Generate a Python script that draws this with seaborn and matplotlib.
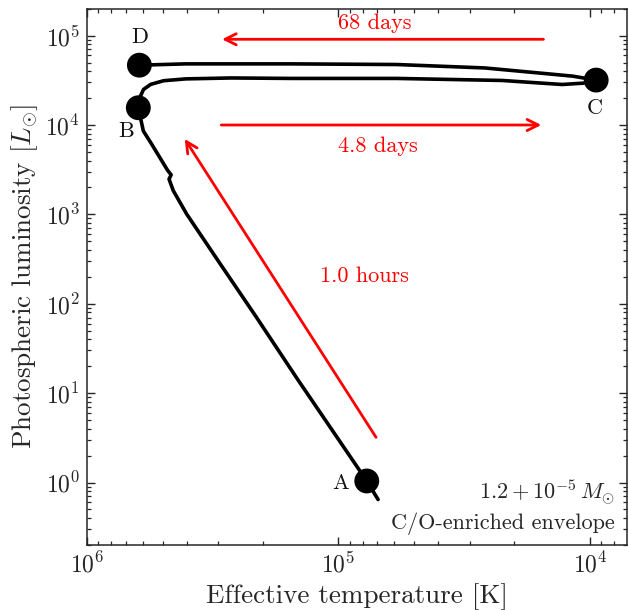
import numpy as np
import pandas as pd
import matplotlib
matplotlib.use("Agg")
import matplotlib.pyplot as plt
import seaborn as sns
from matplotlib.ticker import LogLocator, NullFormatter

# ---- data ----
track_T = [69500, 77100, 146000, 212000, 295000, 401000, 453000, 471000, 462000,
           478000, 552000, 596000, 624000, 618000, 595000, 557000, 495000, 405000,
           267000, 154000, 58600, 22300, 16100, 12900, 10600, 9440, 11700, 16100,
           26200, 58600, 154000, 405000, 618000]
track_L = [0.645, 1.04, 14.6, 71.1, 280, 1010, 1840, 2480, 2770,
           3130, 6100, 8570, 15600, 19800, 25000, 28500, 31300, 32800,
           33600, 33200, 33200, 31500, 29600, 28400, 29400, 31800, 35200, 38300,
           43500, 47500, 48300, 48300, 46700]

point_names = ["A", "B", "C", "D"]
point_T = [77100, 624000, 9440, 618000]
point_L = [1.04, 15600, 31800, 46700]
label_T = [98400, 698000, 9530, 615000]
label_L = [0.98, 8580, 15500, 95000]

arrow_text = ["68 days", "4.8 days", "1.0 hours"]
arrow_tail_T = [15300, 292000, 70800]
arrow_tail_L = [91000, 10000, 3.2]
arrow_head_T = [290000, 15600, 408000]
arrow_head_L = [91000, 10000, 6980]
text_T = [71500, 69500, 78900]
text_L = [137000, 5840, 205]

# ---- style ----
sns.set_style("ticks")
plt.rcParams.update({
    "font.family": "serif",
    "font.serif": ["cmr10", "DejaVu Serif"],
    "mathtext.fontset": "cm",
    "axes.formatter.use_mathtext": True,
    "axes.unicode_minus": False,
    "axes.linewidth": 1.1,
    "xtick.direction": "in", "ytick.direction": "in",
    "xtick.top": True, "ytick.right": True,
    "xtick.major.size": 6, "ytick.major.size": 6,
    "xtick.minor.size": 3, "ytick.minor.size": 3,
    "xtick.major.width": 1.0, "ytick.major.width": 1.0,
    "xtick.minor.width": 0.9, "ytick.minor.width": 0.9,
    "xtick.minor.visible": True, "ytick.minor.visible": True,
})

fig = plt.figure(figsize=(6.29, 6.10), dpi=100)
ax = fig.add_axes([0.138, 0.1066, 0.8593, 0.8791])

track = pd.DataFrame({"T": track_T, "L": track_L})
sns.lineplot(data=track, x="T", y="L", sort=False, estimator=None,
             color="black", lw=2.6, ax=ax)
pts = pd.DataFrame({"T": point_T, "L": point_L})
sns.scatterplot(data=pts, x="T", y="L", s=320, color="black",
                edgecolor="none", zorder=5, ax=ax)

ax.set_xscale("log")
ax.set_yscale("log")
ax.set_xlim(1e6, 7.1e3)
ax.set_ylim(0.2, 2e5)

for ax_ in (ax.xaxis, ax.yaxis):
    ax_.set_major_locator(LogLocator(base=10, numticks=20))
    ax_.set_minor_locator(LogLocator(base=10, subs=np.arange(2, 10), numticks=20))
    ax_.set_minor_formatter(NullFormatter())
ax.tick_params(axis="both", which="major", labelsize=17, pad=5)
ax.tick_params(which="both", top=True, right=True)

ax.set_xlabel("Effective temperature [K]", fontsize=19.5, labelpad=4)
ax.set_ylabel(r"Photospheric luminosity [$L_{\odot}$]", fontsize=19.5, labelpad=4)

for n, tx, ty in zip(point_names, label_T, label_L):
    ax.text(tx, ty, n, fontsize=16, ha="center", va="center", color="#111111")

for t, tT, tL, hT, hL, xT, xL in zip(arrow_text, arrow_tail_T, arrow_tail_L,
                                      arrow_head_T, arrow_head_L, text_T, text_L):
    ax.annotate("", xy=(hT, hL), xytext=(tT, tL),
                arrowprops=dict(arrowstyle="->", color="red", lw=2.0,
                                mutation_scale=20, shrinkA=0, shrinkB=0))
    ax.text(xT, xL, t, color="red", fontsize=16, ha="center", va="center")

ax.text(0.977, 0.098, r"$1.2+10^{-5}\,M_{\odot}$", transform=ax.transAxes,
        ha="right", va="center", fontsize=16)
ax.text(0.977, 0.040, "C/O-enriched envelope", transform=ax.transAxes,
        ha="right", va="center", fontsize=16)

fig.savefig("out.png", dpi=100)
